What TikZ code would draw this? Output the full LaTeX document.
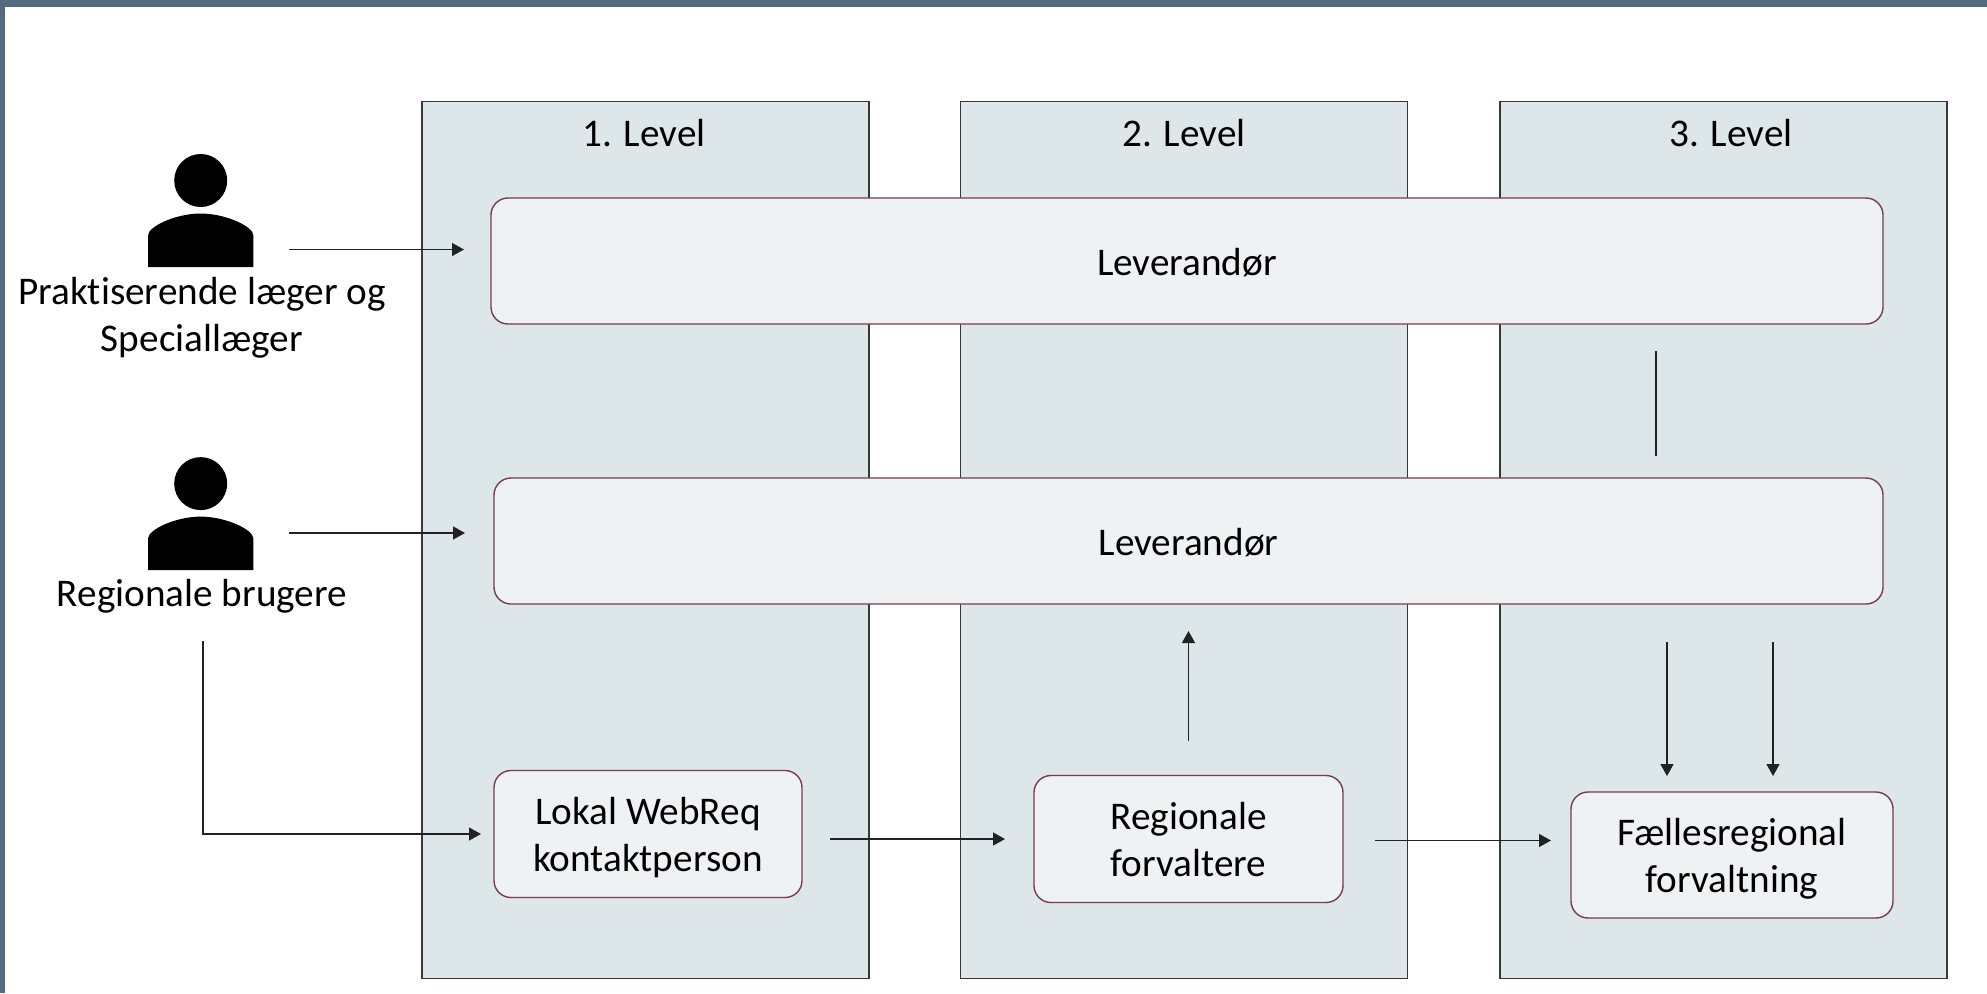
\documentclass[tikz,border=0pt]{standalone}
\usepackage{fontspec}
\setmainfont{Carlito}[Ligatures=NoCommon]
\usetikzlibrary{arrows.meta}

\definecolor{framecol}{HTML}{536A7F}
\definecolor{panelcol}{HTML}{DDE6E8}
\definecolor{boxcol}{HTML}{EEF2F3}
\definecolor{edgecol}{HTML}{7A3B4B}
\definecolor{linecol}{HTML}{222222}

\tikzset{
	txt/.style={inner sep=0pt, align=center, text=black, font=\fontsize{19.6}{23.5}\selectfont},
	panel/.style={draw=linecol!90, fill=panelcol, line width=0.7pt, inner sep=0pt, outer sep=0pt, minimum width=223.5pt, minimum height=438.5pt},
	band/.style={txt, text depth=0pt, draw=edgecol, fill=boxcol, line width=0.7pt, rounded corners=8.5pt, outer sep=0pt},
	pil/.style={draw=linecol, line width=0.7pt, -{Triangle[length=6pt,width=6.5pt]}},
	person/.pic={
		\fill[black] (0,0) ellipse (26.5 and 26.5);
		\fill[black] (-52.7,86.5) -- (-52.7,55) .. controls (-52.7,46) and (-25,33) .. (0,33) .. controls (25,33) and (52.7,46) .. (52.7,55) -- (52.7,86.5) -- cycle;
	}
}

\begin{document}
\begin{tikzpicture}[x=0.5pt,y=-0.5pt]
	\useasboundingbox (0,0) rectangle (1987,993);

	% Frame
	\fill[framecol] (0,0) rectangle (1987,7);
	\fill[framecol] (0,0) rectangle (5,993);

	% Columns
	\node[panel] (level1) at (645.5,540) {};
	\node[panel] (level2) at (1184,540) {};
	\node[panel] (level3) at (1723.5,540) {};
	\node[txt] (title1) at (644,133) {1. Level};
	\node[txt] (title2) at (1184,133) {2. Level};
	\node[txt] (title3) at (1731,133) {3. Level};

	% Boxes
	\node[band, minimum width=696pt, minimum height=63pt] (band1) at (1187,261) {\raisebox{-1.2pt}{Leverandør}};
	\node[band, minimum width=694.5pt, minimum height=63pt] (band2) at (1188.5,541) {\raisebox{-0.6pt}{Leverandør}};
	\node[band, minimum width=154pt, minimum height=63.5pt] (lokal) at (648,834) {Lokal WebReq\\kontaktperson};
	\node[band, minimum width=154.5pt, minimum height=63.5pt] (regionale) at (1188.5,839) {Regionale\\forvaltere};
	\node[band, minimum width=161pt, minimum height=63pt] (faelles) at (1732,855) {Fællesregional\\forvaltning};

	% Users
	\pic at (200.7,180.5) {person};
	\pic at (200.7,483.6) {person};
	\node[txt] (laeger) at (202,317.5) {Praktiserende læger og\\Speciallæger};
	\node[txt] (brugere) at (202,596) {Regionale brugere};

	% Free ends
	\coordinate (from1) at (289,249.5);
	\coordinate (from2) at (289,533);
	\coordinate (from3) at (203,641);
	\coordinate (to1) at ([yshift=-0.75pt]regionale.east);
	\coordinate (stem) at (1656,324);
	\coordinate (down1) at (1667,603);
	\coordinate (down2) at (1773,603);

	% Arrows
	\draw[pil, shorten >=13.5pt] (from1) -- (from1 -| band1.west);
	\draw[pil, shorten >=14.5pt] (from2) -- (from2 -| band2.west);
	\draw[pil, shorten >=6.5pt] (from3) |- (lokal.west);
	\draw[pil, shorten <=14pt, shorten >=14.5pt] (lokal.east |- regionale.west) -- (regionale.west);
	\draw[pil, shorten <=16pt, shorten >=10pt] (to1) -- (to1 -| faelles.west);
	\draw[pil, shorten <=17.5pt, shorten >=13.5pt] (regionale.north) -- (band2.south);
	\draw[draw=linecol, line width=0.7pt, shorten <=13.5pt, shorten >=11pt] (stem) -- (stem |- band2.north);
	\draw[pil, shorten <=19.5pt, shorten >=8pt] (down1) -- (down1 |- faelles.north);
	\draw[pil, shorten <=19.5pt, shorten >=8pt] (down2) -- (down2 |- faelles.north);
\end{tikzpicture}
\end{document}
